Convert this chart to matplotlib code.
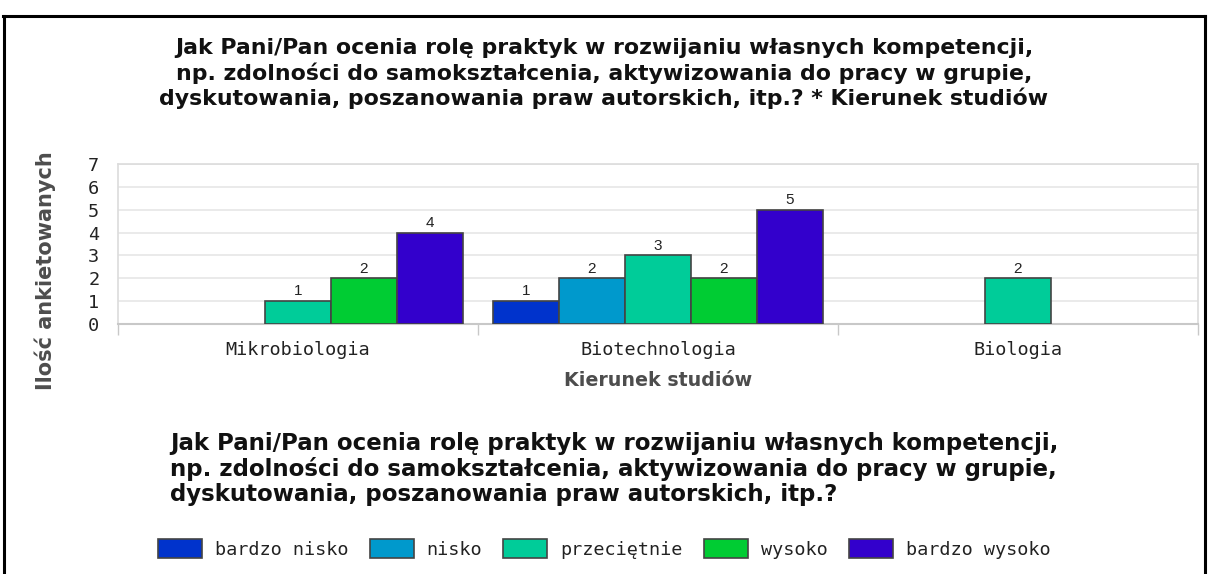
import matplotlib
matplotlib.use("Agg")
import matplotlib.pyplot as plt
from matplotlib.lines import Line2D
import numpy as np

categories = ["Mikrobiologia", "Biotechnologia", "Biologia"]
series_names = ["bardzo nisko", "nisko", "przeciętnie", "wysoko", "bardzo wysoko"]
bardzo_nisko = [0, 1, 0]
nisko = [0, 2, 0]
przecietnie = [1, 3, 2]
wysoko = [2, 2, 0]
bardzo_wysoko = [4, 5, 0]
series_values = [bardzo_nisko, nisko, przecietnie, wysoko, bardzo_wysoko]
colors = ["#0033CC", "#0099CC", "#00CC99", "#00CC33", "#3300CC"]
y_ticks = [0, 1, 2, 3, 4, 5, 6, 7]

title = ("Jak Pani/Pan ocenia rolę praktyk w rozwijaniu własnych kompetencji,\n"
         "np. zdolności do samokształcenia, aktywizowania do pracy w grupie,\n"
         "dyskutowania, poszanowania praw autorskich, itp.? * Kierunek studiów")
legend_title = ("Jak Pani/Pan ocenia rolę praktyk w rozwijaniu własnych kompetencji,\n"
                "np. zdolności do samokształcenia, aktywizowania do pracy w grupie,\n"
                "dyskutowania, poszanowania praw autorskich, itp.?")

W, H = 1208, 574
fig = plt.figure(figsize=(W / 100, H / 100), dpi=100)
ax = fig.add_axes([118 / W, 1 - 324 / H, (1198 - 118) / W, (324 - 164) / H])

LIGHT = "DejaVu Sans Mono"
LSIZE = 13.3
BOLD = "DejaVu Sans"

bw = 66 / 360
x = np.arange(len(categories))
handles = []
for i, (name, vals, c) in enumerate(zip(series_names, series_values, colors)):
    xs = x + (i - 2) * bw
    hv = [v if v > 0 else np.nan for v in vals]
    bars = ax.bar(xs, hv, width=bw, color=c, edgecolor="#444444", linewidth=1.2,
                  label=name, zorder=3)
    handles.append(bars)
    for xi, v in zip(xs, vals):
        if v > 0:
            ax.text(xi, v + 0.12, str(v), ha="center", va="bottom",
                    fontsize=11, family="Liberation Sans", color="#222222")

ax.set_xlim(-0.5, 2.5)
ax.set_ylim(0, 7)
ax.set_yticks(y_ticks)
ax.set_yticklabels([str(t) for t in y_ticks], fontsize=LSIZE, family=LIGHT,
                   color="#222222")
ax.tick_params(axis="y", length=0, pad=13.5)
ax.set_xticks(x)
ax.set_xticklabels(categories, fontsize=LSIZE, family=LIGHT, color="#222222")
ax.tick_params(axis="x", which="major", length=0, pad=12.5)
ax.set_xticks([-0.5, 0.5, 1.5, 2.5], minor=True)
ax.tick_params(axis="x", which="minor", length=8, width=1, color="#c8c8c8",
               direction="out")
ax.grid(axis="y", color="#e6e6e6", linewidth=1.2, zorder=0)
for s in ["top", "right", "left"]:
    ax.spines[s].set_color("#dcdcdc")
    ax.spines[s].set_linewidth(1.2)
ax.spines["bottom"].set_color("#c8c8c8")
ax.spines["bottom"].set_linewidth(1.5)

fig.text(604 / W, 1 - 73.5 / H, title, ha="center", va="center", fontsize=15.8,
         fontweight="bold", family=BOLD, linespacing=1.25, color="#111111")
fig.text(45 / W, 1 - 271 / H, "Ilość ankietowanych", rotation=90, ha="center",
         va="center", fontsize=15, fontweight="bold", family=BOLD,
         color="#4d4d4d")
fig.text(658 / W, 1 - 381 / H, "Kierunek studiów", ha="center", va="center",
         fontsize=13.7, fontweight="bold", family=BOLD, color="#4d4d4d")
fig.text(170 / W, 1 - 469 / H, legend_title, ha="left", va="center",
         fontsize=16.5, fontweight="bold", family=BOLD, linespacing=1.1,
         color="#111111")

leg = fig.legend(handles=handles, labels=series_names, loc="center left",
                 bbox_to_anchor=(158 / W, 1 - 549 / H), ncol=5, frameon=False,
                 prop={"family": LIGHT, "size": LSIZE},
                 handlelength=2.38, handleheight=1.19, handletextpad=0.7,
                 columnspacing=1.15, borderaxespad=0, borderpad=0)
for t in leg.get_texts():
    t.set_color("#222222")

lw = 2.2
fig.add_artist(Line2D([3 / W, 1205 / W], [1 - 16 / H, 1 - 16 / H],
                      color="black", linewidth=lw, transform=fig.transFigure))
fig.add_artist(Line2D([4 / W, 4 / W], [0, 1 - 16 / H],
                      color="black", linewidth=lw, transform=fig.transFigure))
fig.add_artist(Line2D([1205 / W, 1205 / W], [0, 1 - 16 / H],
                      color="black", linewidth=lw, transform=fig.transFigure))

fig.savefig("out.png", dpi=100)
